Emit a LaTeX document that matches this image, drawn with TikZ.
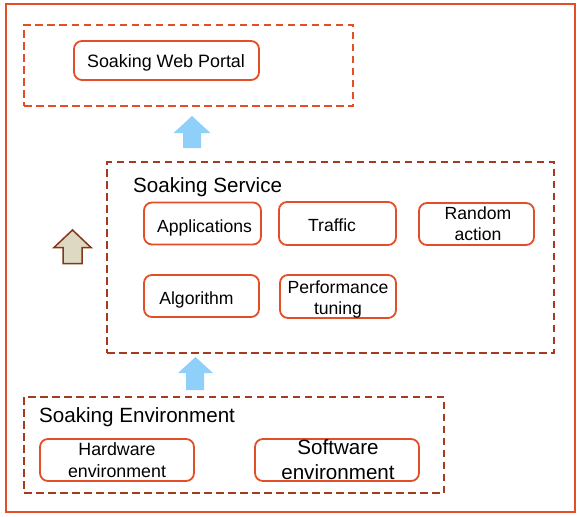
\documentclass[tikz,border=0pt]{standalone}
\usepackage{fontspec}
\setmainfont{Liberation Sans}
\definecolor{orng}{RGB}{228,78,38}
\definecolor{dred}{RGB}{166,58,30}
\definecolor{lblue}{RGB}{142,208,250}
\definecolor{tan}{RGB}{221,217,195}
\definecolor{brn}{RGB}{130,56,24}
\begin{document}
\begin{tikzpicture}[x=1pt,y=-1pt,
  box/.style={draw=orng, line width=1.8pt, rounded corners=8pt, inner sep=0pt},
  obox/.style={draw=orng, line width=2pt, inner sep=0pt},
  dbox/.style={line width=1.8pt, dash pattern=on 7.5pt off 4.5pt, inner sep=0pt},
  txt/.style={font=\fontsize{17.6}{21.5}\selectfont, inner sep=0pt, align=center},
  big/.style={font=\fontsize{20.6}{25}\selectfont, inner sep=0pt, align=center},
  hdr/.style={font=\fontsize{20.6}{25}\selectfont, inner sep=0pt, anchor=base west}]
\useasboundingbox (0,0) rectangle (579,517);
% outer frame
\node[obox, minimum width=569pt, minimum height=508pt] (outer) at (290.5,258) {};
% portal layer
\node[dbox, draw=orng, minimum width=329pt, minimum height=81pt] (portal) at (188.5,65.5) {};
\node[box, minimum width=185pt, minimum height=39pt] (web) at (166.5,60.5) {};
\node[txt, anchor=base, font=\fontsize{17.9}{21.5}\selectfont] (webt) at (166,67.7) {Soaking Web Portal};
% service layer
\node[dbox, draw=dred, minimum width=447pt, minimum height=191pt] (service) at (330.5,257.5) {};
\node[hdr] (servicet) at (133,192.3) {Soaking Service};
\node[box, minimum width=117pt, minimum height=42pt] (app) at (202.5,223.5) {};
\node[txt, anchor=base] (appt) at (204.5,232.3) {Applications};
\node[box, minimum width=117pt, minimum height=43pt] (traf) at (337.5,223.5) {};
\node[txt, anchor=base] (traft) at (332,231.7) {Traffic};
\node[box, minimum width=115pt, minimum height=42pt] (rand) at (476.5,224) {};
\node[txt, anchor=base] (randt) at (478,240.7) {Random\\action};
\node[box, minimum width=115pt, minimum height=42pt] (alg) at (201.5,296) {};
\node[txt, anchor=base] (algt) at (196.5,304.3) {Algorithm};
\node[box, minimum width=116pt, minimum height=43pt] (perf) at (338,296.5) {};
\node[txt, anchor=base] (perft) at (338,314.5) {Performance\\tuning};
% environment layer
\node[dbox, draw=dred, minimum width=420pt, minimum height=96pt] (env) at (234,445) {};
\node[hdr] (envt) at (39,422.3) {Soaking Environment};
\node[box, minimum width=154pt, minimum height=42pt] (hw) at (117,460) {};
\node[txt, anchor=base, font=\fontsize{17.8}{21.3}\selectfont] (hwt) at (117,477) {Hardware\\environment};
\node[box, minimum width=164pt, minimum height=42pt] (sw) at (337,460) {};
\node[big, anchor=base] (swt) at (338,479) {Software\\environment};
% arrows
\fill[lblue] (192,116) -- (210.5,133) -- (201,133) -- (201,148) -- (183,148) -- (183,133) -- (173.5,133) -- cycle;
\fill[lblue] (195.5,357) -- (213,373) -- (204,373) -- (204,390) -- (186,390) -- (186,373) -- (178,373) -- cycle;
\draw[brn, fill=tan, line width=1.5pt, line join=miter] (72.5,230) -- (91,247.5) -- (82,247.5) -- (82,263.5) -- (63,263.5) -- (63,247.5) -- (54,247.5) -- cycle;
\end{tikzpicture}
\end{document}
